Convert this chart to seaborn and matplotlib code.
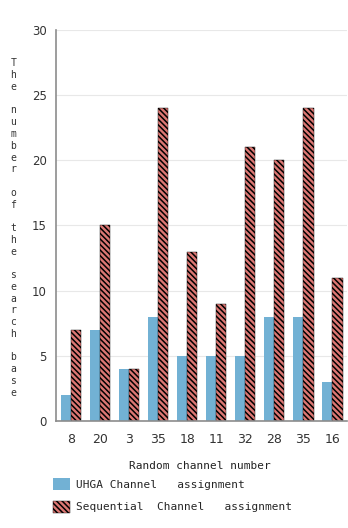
import numpy as np
import pandas as pd
import matplotlib
matplotlib.use("Agg")
import matplotlib.pyplot as plt
import seaborn as sns
from matplotlib.patches import Patch

# chart data
channel_labels = ["8", "20", "3", "35", "18", "11", "32", "28", "35", "16"]
uhga_values = [2, 7, 4, 8, 5, 5, 5, 8, 8, 3]
sequential_values = [7, 15, 4, 24, 13, 9, 21, 20, 24, 11]
series_names = ["UHGA Channel   assignment", "Sequential  Channel   assignment"]
ylabel_text = "The number of the search base"
xlabel_text = "Random channel number"

blue = "#72b1d4"
red = "#dc7773"

sns.set_style("white")
plt.rcParams["hatch.linewidth"] = 1.1
plt.rcParams["hatch.color"] = "black"

n = len(channel_labels)
df = pd.DataFrame({
    "pos": list(range(n)) * 2,
    "value": uhga_values + sequential_values,
    "series": [series_names[0]] * n + [series_names[1]] * n,
})

fig = plt.figure(figsize=(3.48, 5.28), dpi=100)
ax = fig.add_axes([0.162, 0.203, 0.835, 0.74])

sns.barplot(data=df, x="pos", y="value", hue="series", hue_order=series_names,
            palette=[blue, red], width=0.7, gap=0, saturation=1, legend=False, ax=ax)

for bar in ax.containers[1]:
    bar.set_hatch("\\\\\\\\\\\\")
    bar.set_edgecolor("black")
    bar.set_linewidth(0.3)
for bar in ax.containers[0]:
    bar.set_linewidth(0)

ax.set_ylim(0, 30)
ax.set_yticks(range(0, 31, 5))
ax.set_xlim(-0.5, n - 0.5)
ax.set_xticks(range(n))
ax.set_xticklabels(channel_labels)
ax.yaxis.grid(True, color="#e8e8e8", linewidth=0.8)
ax.set_axisbelow(True)
for s in ["top", "right"]:
    ax.spines[s].set_visible(False)
for s in ["left", "bottom"]:
    ax.spines[s].set_color("#8c8c8c")
    ax.spines[s].set_linewidth(1.2)
ax.tick_params(axis="y", length=3, color="#8c8c8c", labelsize=8.5, labelcolor="#333333", pad=4)
ax.tick_params(axis="x", length=0, labelsize=9, labelcolor="#333333", pad=9)
ax.set_xlabel("")
ax.set_ylabel("")

# stacked vertical y label
fig.text(0.038, 0.568, "\n".join(ylabel_text), ha="center", va="center",
         fontsize=7, family="DejaVu Sans Mono", color="#333333", linespacing=1.22)

fig.text(0.575, 0.118, xlabel_text, ha="center", va="center",
         fontsize=8, family="DejaVu Sans Mono", color="#222222")

handles = [Patch(facecolor=blue, edgecolor="none"),
           Patch(facecolor=red, edgecolor="black", hatch="\\\\\\\\\\\\", linewidth=0.3)]
fig.legend(handles, series_names, loc="upper left", bbox_to_anchor=(0.152, 0.095),
           frameon=False, prop={"family": "DejaVu Sans Mono", "size": 8},
           handlelength=1.5, handleheight=1.3, handletextpad=0.55, labelspacing=0.95,
           borderaxespad=0, borderpad=0)

fig.savefig("out.png", dpi=100)
